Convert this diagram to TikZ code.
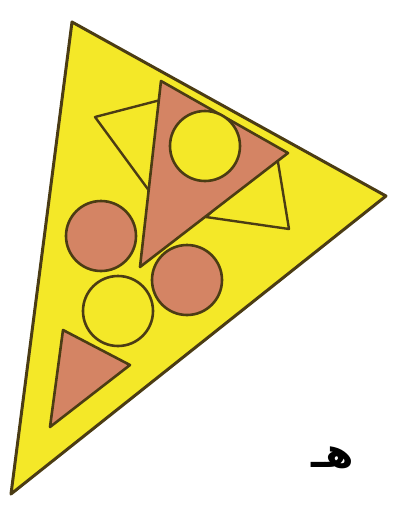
\documentclass[tikz,border=0pt]{standalone}
\usepackage{fontspec}
\newfontfamily\arabicfont[Script=Arabic]{DejaVu Sans}
\TeXXeTstate=1
\definecolor{pyellow}{RGB}{244,232,40}
\definecolor{pbrown}{RGB}{212,132,100}
\definecolor{pline}{RGB}{75,60,20}
\begin{document}
\begin{tikzpicture}[x=1pt,y=-1pt,
  outl/.style={draw=pline,line width=2.6pt,line join=round},
  yel/.style={outl,fill=pyellow},
  brn/.style={outl,fill=pbrown}]
\useasboundingbox (0,0) rectangle (393,507);
% big slice
\draw[yel,line width=3pt] (72,22) -- (386,196) -- (11,494) -- cycle;
% small yellow triangles behind the brown one
\draw[yel,line width=2.4pt] (95,117) -- (172,97) -- (150,192) -- cycle;
\draw[yel,line width=2.4pt] (206,217) -- (289,229) -- (276,150) -- cycle;
% big brown triangle
\draw[brn] (161,81) -- (288,153) -- (140,267) -- cycle;
\draw[yel] (205,146) circle (35);
% circles
\draw[brn] (101,236) circle (35);
\draw[brn] (187,280) circle (35);
\draw[yel] (118,311) circle (35);
% small brown triangle
\draw[brn] (63,330) -- (130,365) -- (50,427) -- cycle;
% letter
\node (lbl) at (333,458) {\arabicfont\bfseries\fontsize{41}{47}\selectfont\beginR هـ\endR};
\end{tikzpicture}
\end{document}
